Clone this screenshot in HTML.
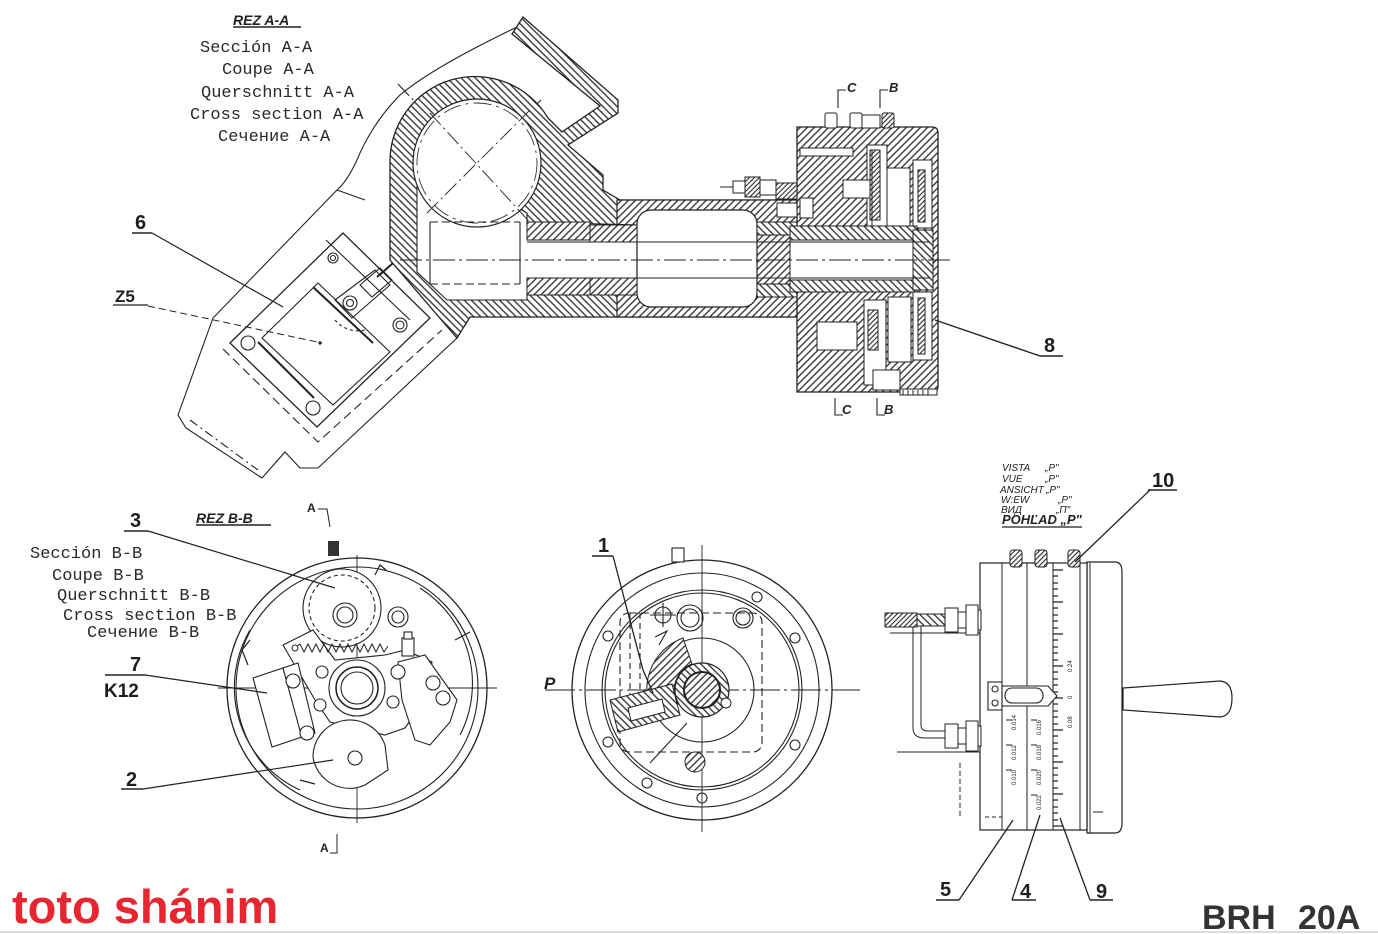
<!DOCTYPE html>
<html><head><meta charset="utf-8">
<style>
html,body{margin:0;padding:0;background:#fff;}
svg{display:block;}
.m{font-family:"Liberation Mono",monospace;font-size:17px;fill:#2a2a2a;}
.n{font-family:"Liberation Sans",sans-serif;font-weight:bold;fill:#1e1e1e;}
.s{font-family:"Liberation Sans",sans-serif;font-style:italic;fill:#222;}
</style></head><body>
<svg width="1378" height="934" viewBox="0 0 1378 934" xmlns="http://www.w3.org/2000/svg">
<defs>
<pattern id="h" patternUnits="userSpaceOnUse" width="5" height="5" patternTransform="rotate(45)">
<rect width="5" height="5" fill="#fff"/><line x1="1" y1="0" x2="1" y2="5" stroke="#2a2a2a" stroke-width="1.3"/></pattern>
<pattern id="g" patternUnits="userSpaceOnUse" width="5" height="5" patternTransform="rotate(-45)">
<rect width="5" height="5" fill="#fff"/><line x1="1" y1="0" x2="1" y2="5" stroke="#2a2a2a" stroke-width="1.3"/></pattern>
<pattern id="f" patternUnits="userSpaceOnUse" width="3.5" height="3.5" patternTransform="rotate(45)">
<rect width="4" height="4" fill="#fff"/><line x1="1" y1="0" x2="1" y2="4" stroke="#2a2a2a" stroke-width="1.1"/></pattern>
</defs>

<!-- ============ SECTION A-A ============ -->
<text x="233" y="25" font-family="Liberation Sans" font-weight="bold" font-style="italic" font-size="14" fill="#222">REZ A-A</text>
<line x1="233" y1="27" x2="301" y2="27" stroke="#222" stroke-width="1.5"/>
<text class="m" x="200" y="52">Sección A-A</text>
<text class="m" x="222" y="74">Coupe A-A</text>
<text class="m" x="201" y="97">Querschnitt A-A</text>
<text class="m" x="190" y="119">Cross section A-A</text>
<text class="m" x="218" y="141">Сечение A-A</text>

<!-- body outline -->
<g fill="none" stroke="#222" stroke-width="1.1">
<path d="M517,27 C480,45 430,70 400,95 C380,115 365,140 357,160 C350,175 343,185 337,190 L213,318 L178,415 L186,428 L262,478 L285,452 L300,468 L318,468 L457,338"/>
<path d="M337,190 L365,200" />
<polygon points="230,343 343,233 430,318 317,427" stroke-width="1.3"/>
<polygon points="262,338 318,283 390,352 333,405"/>
<line x1="258" y1="342" x2="314" y2="398" stroke-width="2"/>
<line x1="313" y1="287" x2="373" y2="343" stroke-width="2"/>
<line x1="326" y1="240" x2="410" y2="320"/>
<circle cx="248" cy="343" r="7"/>
<circle cx="313" cy="408" r="7"/>
<circle cx="400" cy="325" r="7"/><circle cx="400" cy="325" r="4"/>
<circle cx="333" cy="258" r="5"/><circle cx="333" cy="258" r="2.5"/>
<circle cx="350" cy="303" r="7"/><circle cx="350" cy="303" r="3.5"/>
<polygon points="335,300 375,270 390,285 352,318"/>
<polygon points="360,285 380,268 392,280 372,297"/>
<line x1="377" y1="277" x2="400" y2="257" stroke-width="2"/>
<path d="M335,320 A30,30 0 0 0 365,330" stroke-dasharray="3,3"/>
<polyline points="223,349 318,442 442,330" stroke-dasharray="9,5"/>
<polyline points="190,420 258,470" stroke-dasharray="9,4,2,4"/>
<line x1="398" y1="84" x2="535" y2="228" stroke-dasharray="16,4,2,4"/>
<line x1="541" y1="100" x2="420" y2="218" stroke-dasharray="16,4,2,4"/>
</g>

<!-- housing hatched -->
<path d="M523,17 L618,100 L618,113 L568,145 L603,175 L603,190 L620,200 L800,200 L800,317 L470,317 L457,338 L390,260 L390,163 A85,85 0 0 1 548,118 L562,132 L600,106 L512,34 Z" fill="url(#g)" stroke="#222" stroke-width="1.3"/>
<rect x="617" y="200" width="183" height="117" fill="url(#h)" stroke="#222" stroke-width="1.2"/>
<polygon points="417,150 417,272 447,300 527,300 527,295 637,295 637,225 527,222 527,213 417,150" fill="#fff" stroke="#222" stroke-width="1.1"/>
<circle cx="477" cy="163" r="64" fill="#fff" stroke="#222" stroke-width="1.2"/>
<circle cx="477" cy="163" r="60" fill="none" stroke="#333" stroke-width="0.9" stroke-dasharray="18,5,3,5"/>
<line x1="430" y1="113" x2="535" y2="228" stroke="#333" stroke-dasharray="16,4,2,4"/>
<line x1="530" y1="110" x2="425" y2="215" stroke="#333" stroke-dasharray="16,4,2,4"/>
<rect x="637" y="210" width="120" height="97" rx="14" fill="#fff" stroke="#222" stroke-width="1.2"/>
<!-- dashed cylinder -->
<g stroke="#222" fill="none" stroke-width="1.1">
<line x1="430" y1="222" x2="430" y2="284"/>
<line x1="430" y1="222" x2="520" y2="222" stroke-dasharray="8,4"/>
<line x1="430" y1="284" x2="520" y2="284" stroke-dasharray="8,4"/>
<line x1="520" y1="222" x2="520" y2="284"/>
</g>
<!-- bushings -->
<rect x="527" y="222" width="63" height="18" fill="url(#h)" stroke="#222"/>
<rect x="527" y="278" width="63" height="17" fill="url(#h)" stroke="#222"/>
<rect x="590" y="225" width="47" height="17" fill="url(#h)" stroke="#222"/>
<rect x="590" y="278" width="47" height="17" fill="url(#h)" stroke="#222"/>
<rect x="757" y="222" width="40" height="13" fill="url(#g)" stroke="#222"/>
<rect x="757" y="284" width="40" height="13" fill="url(#g)" stroke="#222"/>

<!-- ===== drum ===== -->
<path d="M797,127 L932,127 Q938,127 938,133 L938,386 Q938,392 932,392 L797,392 Z" fill="url(#h)" stroke="#222" stroke-width="1.3"/>
<g fill="#fff" stroke="#222" stroke-width="1">
<rect x="800" y="148" width="53" height="8"/>
<rect x="867" y="145" width="20" height="87"/>
<rect x="887" y="168" width="23" height="64"/>
<rect x="913" y="160" width="19" height="68"/>
<rect x="800" y="198" width="13" height="20"/>
<rect x="843" y="180" width="34" height="18"/>
<rect x="790" y="233" width="140" height="54"/>
<rect x="817" y="322" width="40" height="28"/>
<rect x="864" y="300" width="22" height="85"/>
<rect x="888" y="297" width="23" height="65"/>
<rect x="913" y="292" width="19" height="68"/>
<rect x="873" y="370" width="27" height="20"/>
<rect x="860" y="115" width="20" height="13"/>
</g>
<g stroke="#222" stroke-width="1">
<rect x="918" y="170" width="7" height="52" fill="url(#f)"/>
<rect x="918" y="298" width="7" height="56" fill="url(#f)"/>
<rect x="868" y="310" width="10" height="40" fill="url(#f)"/>
<rect x="870" y="150" width="10" height="70" fill="url(#f)"/>
<rect x="790" y="226" width="127" height="14" fill="url(#g)"/>
<rect x="790" y="280" width="127" height="12" fill="url(#g)"/>
<rect x="913" y="230" width="20" height="60" fill="url(#g)"/>
<rect x="825" y="113" width="12" height="15" rx="2" fill="#fff"/>
<rect x="850" y="113" width="12" height="15" rx="2" fill="#fff"/>
<rect x="882" y="113" width="12" height="15" rx="2" fill="url(#f)"/>
<rect x="900" y="389" width="37" height="6" fill="#fff"/>
</g>
<g stroke="#222" stroke-width="1" fill="none">
<line x1="790" y1="242" x2="930" y2="242"/>
<line x1="790" y1="278" x2="930" y2="278"/>
<line x1="527" y1="242" x2="790" y2="242"/>
<line x1="527" y1="278" x2="790" y2="278"/>
<line x1="790" y1="233" x2="790" y2="287"/>
<line x1="872" y1="150" x2="872" y2="228"/>
<line x1="903" y1="390" x2="903" y2="395"/><line x1="908" y1="390" x2="908" y2="395"/><line x1="913" y1="390" x2="913" y2="395"/><line x1="918" y1="390" x2="918" y2="395"/><line x1="923" y1="390" x2="923" y2="395"/><line x1="928" y1="390" x2="928" y2="395"/>
</g>
<!-- fittings left of drum -->
<g stroke="#222" stroke-width="1" fill="#fff">
<line x1="720" y1="187" x2="735" y2="187"/>
<rect x="733" y="181" width="12" height="12"/>
<rect x="745" y="177" width="15" height="20" fill="url(#f)"/>
<rect x="760" y="180" width="16" height="15"/>
<rect x="776" y="183" width="21" height="16" fill="url(#f)"/>
<rect x="777" y="203" width="20" height="14"/>
</g>
<line x1="400" y1="260" x2="950" y2="260" stroke="#222" stroke-width="1" stroke-dasharray="22,4,3,4"/>
<!-- C B marks -->
<g stroke="#222" stroke-width="1.1" fill="none">
<polyline points="846,90 838,90 838,108"/>
<polyline points="888,90 880,90 880,108"/>
<polyline points="835,398 835,415 843,415"/>
<polyline points="877,398 877,415 885,415"/>
</g>
<g class="s" font-size="13" font-weight="bold">
<text x="847" y="92">C</text><text x="889" y="92">B</text>
<text x="842" y="414">C</text><text x="884" y="414">B</text>
</g>

<!-- labels 6, Z5, 8 -->
<text class="n" x="135" y="229" font-size="20">6</text>
<line x1="132" y1="233" x2="152" y2="233" stroke="#222" stroke-width="1.5"/>
<line x1="152" y1="233" x2="283" y2="307" stroke="#222" stroke-width="1.2"/>
<text class="n" x="115" y="302" font-size="17">Z5</text>
<line x1="113" y1="305" x2="148" y2="305" stroke="#222" stroke-width="1.3"/>
<line x1="148" y1="306" x2="322" y2="343" stroke="#222" stroke-width="1" stroke-dasharray="7,4"/>
<circle cx="320" cy="343" r="1.6" fill="#222"/>
<text class="n" x="1044" y="352" font-size="20">8</text>
<line x1="1040" y1="356" x2="1063" y2="356" stroke="#222" stroke-width="1.5"/>
<line x1="1040" y1="356" x2="935" y2="320" stroke="#222" stroke-width="1.4"/>

<!-- ============ SECTION B-B ============ -->
<text x="196" y="523" font-family="Liberation Sans" font-weight="bold" font-style="italic" font-size="14" fill="#222">REZ B-B</text>
<line x1="196" y1="525" x2="271" y2="525" stroke="#222" stroke-width="1.5"/>
<text class="m" x="30" y="558" font-size="17.5">Sección B-B</text>
<text class="m" x="52" y="580">Coupe B-B</text>
<text class="m" x="57" y="600">Querschnitt B-B</text>
<text class="m" x="63" y="620">Cross section B-B</text>
<text class="m" x="87" y="637">Сечение B-B</text>
<text class="n" x="307" y="512" font-size="12">A</text>
<polyline points="318,509 327,509 330,527" fill="none" stroke="#222"/>
<text class="n" x="320" y="852" font-size="12">A</text>
<polyline points="330,853 337,853 337,834" fill="none" stroke="#222"/>

<g fill="none" stroke="#222" stroke-width="1.1">
<circle cx="357" cy="688" r="130" stroke-width="1.3"/>
<circle cx="357" cy="688" r="121"/>
<path d="M250,630 A113,113 0 0 0 300,790" />
<path d="M420,588 A113,113 0 0 1 460,735" />
<line x1="357" y1="555" x2="357" y2="823" stroke-width="0.9"/>
<line x1="218" y1="688" x2="497" y2="688" stroke-width="0.9"/>
</g>
<rect x="328" y="541" width="11" height="15" fill="#333"/>
<g fill="#fff" stroke="#222" stroke-width="1.1">
<circle cx="342" cy="608" r="39"/>
<circle cx="342" cy="608" r="33" fill="none" stroke-dasharray="4,3"/>
<circle cx="345" cy="615" r="12"/><circle cx="345" cy="615" r="8"/>
<polygon points="283,645 313,630 335,660 385,655 405,650 432,662 425,700 405,728 385,735 330,722 315,700"/>
<polygon points="398,662 425,655 457,700 450,722 430,745 415,740 402,700"/>
<circle cx="357" cy="688" r="28"/>
<circle cx="357" cy="688" r="21" stroke-width="1.6"/>
<circle cx="357" cy="688" r="16"/>
<path d="M313,757 A37,37 0 0 1 385,745 L388,770 L365,785 A37,37 0 0 1 313,757 Z"/>
<circle cx="355" cy="758" r="7"/>
<polygon points="253,678 283,668 302,737 272,747"/>
<polygon points="283,668 298,663 315,733 302,738"/>
<circle cx="293" cy="681" r="7"/><circle cx="307" cy="733" r="7"/>
<circle cx="322" cy="672" r="6"/><circle cx="320" cy="705" r="6"/>
<circle cx="398" cy="617" r="10"/><circle cx="398" cy="617" r="6"/>
<circle cx="398" cy="672" r="7"/><circle cx="393" cy="702" r="6"/>
<circle cx="433" cy="683" r="7"/><circle cx="443" cy="698" r="7"/>
<rect x="402" y="638" width="12" height="18"/>
<rect x="404" y="632" width="8" height="7"/>
</g>
<path d="M295,648 l5,-4 l4,8 l4,-8 l4,8 l4,-8 l4,8 l4,-8 l4,8 l4,-8 l4,8 l4,-8 l4,8 l4,-8 l4,8 l4,-8 l4,8 l4,-8 l4,8 l4,-8 l4,8 l4,-8 l4,8 l4,-6" fill="none" stroke="#222" stroke-width="1"/>
<circle cx="295" cy="648" r="3" fill="#fff" stroke="#222"/>
<path d="M250,640 l-8,10 l6,15 M455,640 l15,-8 M375,575 l5,-10 l6,5 M300,780 l15,4" fill="none" stroke="#222" stroke-width="1.2"/>

<text class="n" x="130" y="527" font-size="20">3</text>
<line x1="124" y1="531" x2="148" y2="531" stroke="#222" stroke-width="1.5"/>
<line x1="148" y1="531" x2="335" y2="588" stroke="#222" stroke-width="1.2"/>
<text class="n" x="130" y="671" font-size="20">7</text>
<line x1="105" y1="675" x2="145" y2="675" stroke="#222" stroke-width="1.5"/>
<line x1="145" y1="675" x2="267" y2="693" stroke="#222" stroke-width="1.2"/>
<text class="n" x="104" y="697" font-size="19">K12</text>
<text class="n" x="126" y="786" font-size="20">2</text>
<line x1="121" y1="789" x2="143" y2="789" stroke="#222" stroke-width="1.5"/>
<line x1="143" y1="789" x2="333" y2="760" stroke="#222" stroke-width="1.2"/>

<!-- ============ MIDDLE VIEW ============ -->
<g fill="none" stroke="#222" stroke-width="1.1">
<circle cx="702" cy="690" r="130" stroke-width="1.3"/>
<circle cx="702" cy="690" r="117"/>
<circle cx="702" cy="690" r="100"/>
<circle cx="702" cy="690" r="97"/>
<circle cx="702" cy="690" r="52"/>
<rect x="620" y="613" width="142" height="139" rx="9" stroke-dasharray="8,4"/>
<line x1="640" y1="613" x2="640" y2="700" stroke-dasharray="6,4"/>
<line x1="630" y1="613" x2="630" y2="700" stroke-dasharray="6,4"/>
<line x1="702" y1="545" x2="702" y2="832" stroke-width="0.9"/>
<line x1="545" y1="690" x2="860" y2="690" stroke-width="0.9" stroke-dasharray="30,4,3,4"/>
<line x1="650" y1="763" x2="687" y2="723"/>
<circle cx="608" cy="636" r="5"/><circle cx="795" cy="638" r="5"/>
<circle cx="608" cy="742" r="5"/><circle cx="795" cy="745" r="5"/>
<circle cx="647" cy="783" r="5"/><circle cx="702" cy="798" r="5"/>
<circle cx="757" cy="597" r="5"/>
<circle cx="690" cy="618" r="13"/><circle cx="690" cy="618" r="9"/>
<circle cx="743" cy="618" r="10"/><circle cx="743" cy="618" r="7"/>
<circle cx="663" cy="615" r="8"/>
<line x1="650" y1="615" x2="676" y2="615"/><line x1="663" y1="603" x2="663" y2="627"/>
<rect x="672" y="548" width="12" height="14" fill="#fff"/>
<path d="M655,637 l12,-6 l-8,14"/>
</g>
<path d="M654,717 A55,55 0 0 1 683,638 L692,664 A28,28 0 0 0 678,704 Z" fill="url(#h)" stroke="#222"/>
<polygon points="610,700 672,684 680,715 618,732" fill="url(#g)" stroke="#222"/>
<polygon points="628,708 662,699 665,712 631,721" fill="#fff" stroke="#222"/>
<circle cx="702" cy="690" r="27" fill="url(#g)" stroke="#222" stroke-width="1.2"/>
<circle cx="702" cy="690" r="18" fill="url(#h)" stroke="#222" stroke-width="2"/>
<circle cx="726" cy="703" r="5" fill="#fff" stroke="#222"/>
<circle cx="695" cy="762" r="10" fill="url(#h)" stroke="#222"/>
<text class="n" x="598" y="552" font-size="20">1</text>
<line x1="592" y1="556" x2="613" y2="556" stroke="#222" stroke-width="1.5"/>
<path d="M613,556 L643,670 L653,693" fill="none" stroke="#222" stroke-width="1.3"/>
<text x="544" y="689" font-family="Liberation Sans" font-style="italic" font-weight="bold" font-size="17" fill="#222">P</text>

<!-- ============ RIGHT VIEW ============ -->
<g class="s" font-size="10">
<text x="1002" y="471">VISTA</text><text x="1045" y="471">„P"</text>
<text x="1002" y="482">VUE</text><text x="1045" y="482">„P"</text>
<text x="1000" y="493">ANSICHT</text><text x="1046" y="493">„P"</text>
<text x="1001" y="503">W:EW</text><text x="1058" y="503">„P"</text>
<text x="1001" y="513">ВИД</text><text x="1056" y="513">„П"</text>
</g>
<text x="1002" y="524" font-family="Liberation Sans" font-style="italic" font-weight="bold" font-size="13" fill="#222">POHĽAD „P"</text>
<line x1="1002" y1="527" x2="1082" y2="527" stroke="#222" stroke-width="1.3"/>

<g fill="#fff" stroke="#222" stroke-width="1.2">
<path d="M1087,562 L1115,562 Q1122,562 1122,572 L1122,823 Q1122,833 1115,833 L1087,833 Z"/>
<rect x="980" y="563" width="107" height="267"/>
<path d="M1123,688 L1220,681 Q1232,682 1232,698 Q1232,716 1220,717 L1123,710 Z"/>
</g>
<g stroke="#222" stroke-width="1" fill="none">
<line x1="1002" y1="563" x2="1002" y2="830"/>
<line x1="1027" y1="563" x2="1027" y2="830"/>
<line x1="1053" y1="563" x2="1053" y2="830"/>
<line x1="1080" y1="563" x2="1080" y2="830"/>
<line x1="1090" y1="563" x2="1090" y2="833"/>
<line x1="1093" y1="812" x2="1103" y2="812"/>
<path d="M1053,570h10M1053,576h5M1053,583h5M1053,589h5M1053,596h5M1053,602h10M1053,608h5M1053,615h5M1053,621h5M1053,628h5M1053,634h10M1053,640h5M1053,647h5M1053,653h5M1053,660h5M1053,666h10M1053,672h5M1053,679h5M1053,685h5M1053,692h5M1053,698h10M1053,704h5M1053,711h5M1053,717h5M1053,724h5M1053,730h10M1053,736h5M1053,743h5M1053,749h5M1053,756h5M1053,762h10M1053,768h5M1053,775h5M1053,781h5M1053,788h5M1053,794h10M1053,800h5M1053,807h5M1053,813h5M1053,820h5M1053,826h10" stroke-width="1.2"/>
<path d="M1006,720h6M1006,745h6M1006,770h6M1031,720h6M1031,745h6M1031,770h6M1031,795h6"/>
<line x1="985" y1="817" x2="1002" y2="817" stroke-dasharray="4,3"/>
<line x1="960" y1="763" x2="960" y2="817" stroke-dasharray="5,3"/>
<line x1="890" y1="633" x2="980" y2="633"/>
<line x1="897" y1="752" x2="980" y2="752"/>
<path d="M913,617 L913,728 Q913,738 925,738 L948,738 M921,617 L921,725 Q921,731 928,731 L948,731"/>
</g>
<g font-family="Liberation Sans" font-size="6" fill="#222">
<text transform="translate(1072,672) rotate(-90)">0.24</text>
<text transform="translate(1072,699) rotate(-90)">0</text>
<text transform="translate(1072,728) rotate(-90)">0.08</text>
<text transform="translate(1016,730) rotate(-90)">0.014</text>
<text transform="translate(1016,760) rotate(-90)">0.012</text>
<text transform="translate(1016,785) rotate(-90)">0.010</text>
<text transform="translate(1041,735) rotate(-90)">0.016</text>
<text transform="translate(1041,760) rotate(-90)">0.018</text>
<text transform="translate(1041,785) rotate(-90)">0.020</text>
<text transform="translate(1041,810) rotate(-90)">0.022</text>
</g>
<!-- indicator -->
<g stroke="#222" stroke-width="1.1" fill="#fff">
<rect x="988" y="682" width="14" height="28"/>
<circle cx="995" cy="689" r="3"/><circle cx="995" cy="703" r="3"/>
<path d="M1002,686 L1048,686 L1057,696 L1048,706 L1002,706 Z"/>
<rect x="1005" y="688" width="38" height="15" rx="7"/>
</g>
<!-- knobs -->
<g stroke="#222" stroke-width="1" fill="url(#f)">
<rect x="1010" y="550" width="12" height="17" rx="3"/>
<rect x="1035" y="550" width="12" height="17" rx="3"/>
<rect x="1068" y="550" width="12" height="17" rx="3"/>
</g>
<!-- fittings -->
<g stroke="#222" stroke-width="1">
<rect x="885" y="613" width="32" height="14" fill="url(#f)"/>
<rect x="917" y="614" width="28" height="12" fill="url(#g)"/>
<rect x="945" y="608" width="13" height="24" fill="#fff"/>
<rect x="958" y="612" width="8" height="16" fill="#fff"/>
<rect x="966" y="605" width="12" height="30" fill="#fff"/>
<rect x="978" y="610" width="3" height="20" fill="#fff"/>
<rect x="945" y="724" width="13" height="24" fill="#fff"/>
<rect x="958" y="728" width="8" height="16" fill="#fff"/>
<rect x="966" y="721" width="12" height="30" fill="#fff"/>
<rect x="978" y="726" width="3" height="20" fill="#fff"/>
</g>
<text class="n" x="1152" y="487" font-size="20">10</text>
<line x1="1148" y1="490" x2="1177" y2="490" stroke="#222" stroke-width="1.5"/>
<line x1="1150" y1="490" x2="1075" y2="562" stroke="#222" stroke-width="1.3"/>
<text class="n" x="940" y="896" font-size="20">5</text>
<line x1="936" y1="900" x2="959" y2="900" stroke="#222" stroke-width="1.5"/>
<line x1="959" y1="900" x2="1013" y2="820" stroke="#222" stroke-width="1.3"/>
<text class="n" x="1020" y="898" font-size="20">4</text>
<line x1="1012" y1="900" x2="1036" y2="900" stroke="#222" stroke-width="1.5"/>
<line x1="1012" y1="900" x2="1040" y2="815" stroke="#222" stroke-width="1.3"/>
<text class="n" x="1096" y="898" font-size="20">9</text>
<line x1="1090" y1="900" x2="1113" y2="900" stroke="#222" stroke-width="1.5"/>
<line x1="1090" y1="900" x2="1060" y2="818" stroke="#222" stroke-width="1.3"/>

<!-- bottom texts -->
<text x="12" y="923" font-family="Liberation Sans" font-weight="bold" font-size="47" fill="#e8262f">toto shánim</text>
<text x="1202" y="929" font-family="Liberation Sans" font-weight="bold" font-size="34" fill="#333">BRH</text>
<text x="1298" y="929" font-family="Liberation Sans" font-weight="bold" font-size="34" fill="#333">20A</text>
<line x1="0" y1="932" x2="1378" y2="932" stroke="#ddd" stroke-width="2"/>
</svg>
</body></html>
